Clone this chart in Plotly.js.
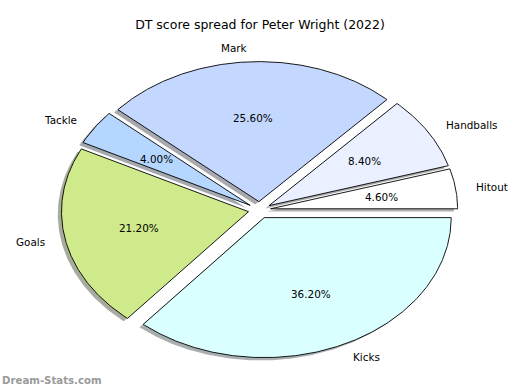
<!DOCTYPE html>
<html>
<head>
<meta charset="utf-8">
<script src="https://cdn.plot.ly/plotly-3.0.1.min.js"></script>
<style>html,body{margin:0;padding:0;background:#fff;}#chart{width:520px;height:390px;}</style>
</head>
<body>
<div id="chart"></div>
<script>
// Data
const labels = ['Hitout', 'Handballs', 'Mark', 'Tackle', 'Goals', 'Kicks'];
const values = [4.6, 8.4, 25.6, 4.0, 21.2, 36.2];
const colors = ['#ffffff', '#eaf0ff', '#c4d8ff', '#b4d6ff', '#cfea8a', '#d9ffff'];
const titleText = 'DT score spread for Peter Wright (2022)';
const watermark = 'Dream-Stats.com';

// Style constants
const EXPLODE = 0.06;
const LABEL_DIST = 1.1;
const PCT_DIST = 0.6;
const SHADOW_DX = -0.02, SHADOW_DY = -0.02;
const FONT = 'DejaVu Sans';

function hexToRgb(h) {
  const n = parseInt(h.slice(1), 16);
  return [(n >> 16) & 255, (n >> 8) & 255, n & 255];
}

const total = values.reduce((a, b) => a + b, 0);
const traces = [];
const shadowTraces = [];
const annotations = [];
let cum = 0;
const rad = Math.PI / 180;

values.forEach((v, i) => {
  const t1 = 360 * cum / total;
  const t2 = 360 * (cum + v) / total;
  cum += v;
  const mid = (t1 + t2) / 2;
  const ox = EXPLODE * Math.cos(mid * rad);
  const oy = EXPLODE * Math.sin(mid * rad);
  const n = Math.max(2, Math.ceil((t2 - t1) / 0.5));
  const xs = [ox], ys = [oy];
  for (let k = 0; k <= n; k++) {
    const a = (t1 + (t2 - t1) * k / n) * rad;
    xs.push(ox + Math.cos(a));
    ys.push(oy + Math.sin(a));
  }
  xs.push(ox); ys.push(oy);

  const rgb = hexToRgb(colors[i]);
  const sc = rgb.map(c => Math.round(c * 0.3));
  shadowTraces.push({
    type: 'scatter', mode: 'lines',
    x: xs.map(x => x + SHADOW_DX), y: ys.map(y => y + SHADOW_DY),
    fill: 'toself', fillcolor: `rgba(${sc[0]},${sc[1]},${sc[2]},0.45)`,
    line: {width: 0, color: 'rgba(0,0,0,0)'},
    hoverinfo: 'skip', showlegend: false
  });
  traces.push({
    type: 'scatter', mode: 'lines',
    x: xs, y: ys,
    fill: 'toself', fillcolor: colors[i],
    line: {width: 0.9, color: '#000000'},
    name: labels[i],
    hoverinfo: 'skip', showlegend: false
  });

  const c = Math.cos(mid * rad), s = Math.sin(mid * rad);
  annotations.push({
    x: ox + LABEL_DIST * c, y: oy + LABEL_DIST * s, xref: 'x', yref: 'y',
    text: labels[i], showarrow: false,
    xanchor: c > 0 ? 'left' : 'right', yanchor: 'middle',
    font: {family: FONT, size: 10.4, color: '#000000'}
  });
  annotations.push({
    x: ox + PCT_DIST * c, y: oy + PCT_DIST * s, xref: 'x', yref: 'y',
    text: (v / total * 100).toFixed(2) + '%', showarrow: false,
    xanchor: 'center', yanchor: 'middle',
    font: {family: FONT, size: 10.4, color: '#000000'}
  });
});

annotations.push({
  x: 0, y: 1 - 380 / 390, xref: 'paper', yref: 'paper',
  text: watermark, showarrow: false, xanchor: 'left', yanchor: 'middle',
  font: {family: FONT, size: 10.2, color: '#9a9a9a', weight: 'bold'}
});

const W = 520, H = 390;
const CX = 259.5, CY = 210, RX = 187, RY = 140;

const layout = {
  width: W, height: H,
  margin: {l: 0, r: 0, t: 0, b: 0, pad: 0},
  paper_bgcolor: '#ffffff', plot_bgcolor: '#ffffff',
  showlegend: false, hovermode: false,
  title: {
    text: titleText, x: 0.5, xanchor: 'center',
    y: 1 - 25 / H, yanchor: 'middle',
    font: {family: FONT, size: 12.5, color: '#000000'}
  },
  xaxis: {visible: false, range: [-CX / RX, (W - CX) / RX], fixedrange: true, showgrid: false, zeroline: false},
  yaxis: {visible: false, range: [-(H - CY) / RY, CY / RY], fixedrange: true, showgrid: false, zeroline: false},
  annotations: annotations
};

Plotly.newPlot('chart', shadowTraces.concat(traces), layout, {displayModeBar: false, staticPlot: true});
</script>
</body>
</html>
